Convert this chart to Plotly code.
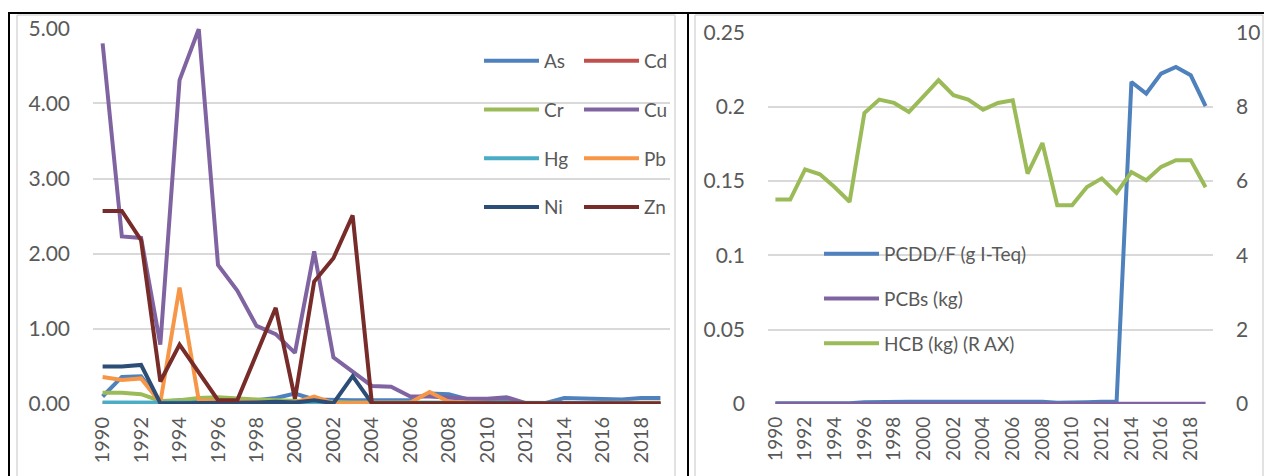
import plotly.graph_objects as go

# ---------------------------------------------------------------
# Data
# ---------------------------------------------------------------
years = list(range(1990, 2020))

# heavy metals (left panel)
As = [0.10, 0.36, 0.37, 0.03, 0.05, 0.05, 0.04, 0.04, 0.05, 0.08, 0.14, 0.06, 0.05, 0.05, 0.05,
      0.05, 0.05, 0.14, 0.13, 0.06, 0.05, 0.05, 0.01, 0.01, 0.08, 0.07, 0.07, 0.06, 0.08, 0.08]
Cd = [0.01, 0.01, 0.01, 0.00, 0.00, 0.00, 0.00, 0.00, 0.00, 0.00, 0.00, 0.00, 0.00, 0.00, 0.00,
      0.00, 0.00, 0.00, 0.00, 0.00, 0.00, 0.00, 0.00, 0.00, 0.00, 0.00, 0.00, 0.00, 0.00, 0.00]
Cr = [0.15, 0.15, 0.13, 0.04, 0.05, 0.08, 0.09, 0.07, 0.06, 0.05, 0.04, 0.03, 0.02, 0.02, 0.02,
      0.02, 0.02, 0.02, 0.02, 0.01, 0.01, 0.01, 0.01, 0.01, 0.01, 0.01, 0.01, 0.01, 0.01, 0.01]
Cu = [4.80, 2.23, 2.21, 0.79, 4.31, 4.99, 1.85, 1.51, 1.04, 0.93, 0.68, 2.03, 0.62, 0.43, 0.24,
      0.23, 0.10, 0.10, 0.08, 0.07, 0.07, 0.09, 0.01, 0.01, 0.01, 0.01, 0.01, 0.01, 0.01, 0.01]
Hg = [0.02, 0.02, 0.02, 0.01, 0.01, 0.01, 0.01, 0.01, 0.01, 0.01, 0.01, 0.01, 0.01, 0.01, 0.01,
      0.01, 0.01, 0.01, 0.01, 0.01, 0.01, 0.01, 0.01, 0.01, 0.01, 0.01, 0.01, 0.01, 0.01, 0.01]
Pb = [0.36, 0.32, 0.34, 0.02, 1.55, 0.05, 0.04, 0.03, 0.02, 0.02, 0.02, 0.10, 0.01, 0.01, 0.01,
      0.01, 0.02, 0.16, 0.03, 0.02, 0.01, 0.01, 0.01, 0.01, 0.01, 0.01, 0.01, 0.01, 0.01, 0.02]
Ni = [0.50, 0.50, 0.52, 0.01, 0.01, 0.01, 0.01, 0.01, 0.02, 0.03, 0.02, 0.05, 0.01, 0.37, 0.01,
      0.01, 0.01, 0.02, 0.02, 0.01, 0.01, 0.01, 0.01, 0.01, 0.01, 0.01, 0.01, 0.01, 0.01, 0.01]
Zn = [2.57, 2.57, 2.18, 0.30, 0.79, 0.42, 0.05, 0.05, 0.67, 1.28, 0.07, 1.63, 1.94, 2.51, 0.01,
      0.01, 0.01, 0.01, 0.01, 0.01, 0.00, 0.00, 0.00, 0.00, 0.00, 0.00, 0.00, 0.00, 0.00, 0.00]

# POPs (right panel)
PCDDF = [0.0005, 0.0005, 0.0005, 0.0005, 0.0005, 0.0005, 0.0012, 0.0015, 0.0015, 0.0015,
         0.0015, 0.0015, 0.0015, 0.0015, 0.0015, 0.0015, 0.0015, 0.0015, 0.0015, 0.0008,
         0.0008, 0.0012, 0.0015, 0.0015, 0.2166, 0.2088, 0.2222, 0.2267, 0.2211, 0.2003]
PCBs = [0.0002, 0.0002, 0.0002, 0.0002, 0.0002, 0.0002, 0.0002, 0.0002, 0.0002, 0.0002,
        0.0002, 0.0002, 0.0002, 0.0002, 0.0002, 0.0002, 0.0002, 0.0002, 0.0002, 0.0002,
        0.0002, 0.0002, 0.0002, 0.0002, 0.0002, 0.0002, 0.0002, 0.0002, 0.0002, 0.0002]
HCB = [5.50, 5.50, 6.31, 6.18, 5.83, 5.44, 7.83, 8.19, 8.10, 7.86, 8.28, 8.71, 8.31, 8.19, 7.92,
       8.10, 8.17, 6.20, 7.02, 5.35, 5.35, 5.84, 6.07, 5.68, 6.24, 6.02, 6.38, 6.56, 6.56, 5.83]

# ---------------------------------------------------------------
# Figure
# ---------------------------------------------------------------
# the page body keeps its default 8px margin, so the figure is 8px smaller
# and all screen positions below are shifted by that offset
OFF = 8
W, H = 1272 - OFF, 476 - OFF
FONT = "Lato"
GREY_TXT = "#595959"
GRID = "#D9D9D9"


def fx(px):
    return (px - OFF) / W


def fy(py):
    return (H - (py - OFF)) / H


fig = go.Figure()

metals = [("As", As, "#4F81BD", "legend"), ("Cd", Cd, "#C0504D", "legend2"),
          ("Cr", Cr, "#9BBB59", "legend"), ("Cu", Cu, "#8064A2", "legend2"),
          ("Hg", Hg, "#4BACC6", "legend"), ("Pb", Pb, "#F79646", "legend2"),
          ("Ni", Ni, "#2C4D75", "legend"), ("Zn", Zn, "#772C2A", "legend2")]

for name, vals, col, lg in metals:
    fig.add_trace(go.Scatter(x=years, y=vals, name=name, mode="lines",
                             line=dict(color=col, width=4, shape="linear"),
                             xaxis="x", yaxis="y", legend=lg, legendgroup=name))

fig.add_trace(go.Scatter(x=years, y=PCDDF, name="PCDD/F (g I-Teq)", mode="lines",
                         line=dict(color="#4F81BD", width=4),
                         xaxis="x2", yaxis="y2", legend="legend3", legendgroup="pcdd"))
fig.add_trace(go.Scatter(x=years, y=PCBs, name="PCBs (kg)", mode="lines",
                         line=dict(color="#8064A2", width=4),
                         xaxis="x2", yaxis="y2", legend="legend3", legendgroup="pcb"))
fig.add_trace(go.Scatter(x=years, y=HCB, name="HCB (kg) (R AX)", mode="lines",
                         line=dict(color="#9BBB59", width=4),
                         xaxis="x2", yaxis="y3", legend="legend3", legendgroup="hcb"))

xax = dict(range=[1989.5, 2019.5], tickmode="array", tickvals=years[::2],
           tickangle=-90, showgrid=False, zeroline=False, showline=False,
           ticks="", ticklabelstandoff=8, automargin=False,
           tickfont=dict(family=FONT, size=20, color=GREY_TXT))
yax = dict(showgrid=True, gridcolor=GRID, gridwidth=1.5, zeroline=False,
           showline=False, ticks="", ticklabelstandoff=22, automargin=False,
           tickfont=dict(family=FONT, size=21, color=GREY_TXT))

leg = dict(bgcolor="rgba(0,0,0,0)", orientation="v", itemwidth=55,
           font=dict(family=FONT, size=19, color=GREY_TXT),
           xanchor="left", yanchor="top", traceorder="grouped", itemclick=False)

fig.update_layout(
    width=W, height=H, margin=dict(l=0, r=0, t=0, b=0, autoexpand=False),
    paper_bgcolor="white", plot_bgcolor="white",
    showlegend=True,
    xaxis=dict(xax, domain=[fx(93), fx(670)], anchor="y"),
    yaxis=dict(yax, domain=[fy(404), fy(28.3)], range=[0, 5], dtick=1,
               tickformat=".2f", anchor="x"),
    xaxis2=dict(xax, domain=[fx(768), fx(1213)], anchor="y2",
                tickfont=dict(family=FONT, size=19, color=GREY_TXT)),
    yaxis2=dict(yax, domain=[fy(404), fy(32.3)], range=[0, 0.25], dtick=0.05,
                anchor="x2"),
    yaxis3=dict(yax, overlaying="y2", side="right", range=[0, 10], dtick=2,
                anchor="x2", showgrid=False),
    legend=dict(leg, x=fx(479), y=fy(42), tracegroupgap=21),
    legend2=dict(leg, x=fx(579), y=fy(42), tracegroupgap=21),
    legend3=dict(leg, x=fx(819), y=fy(235), tracegroupgap=17),
)

# table / chart frame lines
frame = [
    (8, 13, 1272, 13, "black", 2),
    (9, 13, 9, 476, "black", 2),
    (688, 13, 688, 476, "black", 2),
    (1267, 13, 1267, 476, "black", 2),
    (17, 15, 675, 15, GRID, 1.5),
    (17, 15, 17, 476, GRID, 1.5),
    (675, 15, 675, 476, GRID, 1.5),
    (695, 15, 1263, 15, GRID, 1.5),
    (695, 15, 695, 476, GRID, 1.5),
    (1263, 15, 1263, 476, GRID, 1.5),
]
for x0, y0, x1, y1, c, w in frame:
    fig.add_shape(type="line", xref="paper", yref="paper",
                  x0=fx(x0), y0=fy(y0), x1=fx(x1), y1=fy(y1),
                  line=dict(color=c, width=w), layer="below")

fig.write_html("out.html")
